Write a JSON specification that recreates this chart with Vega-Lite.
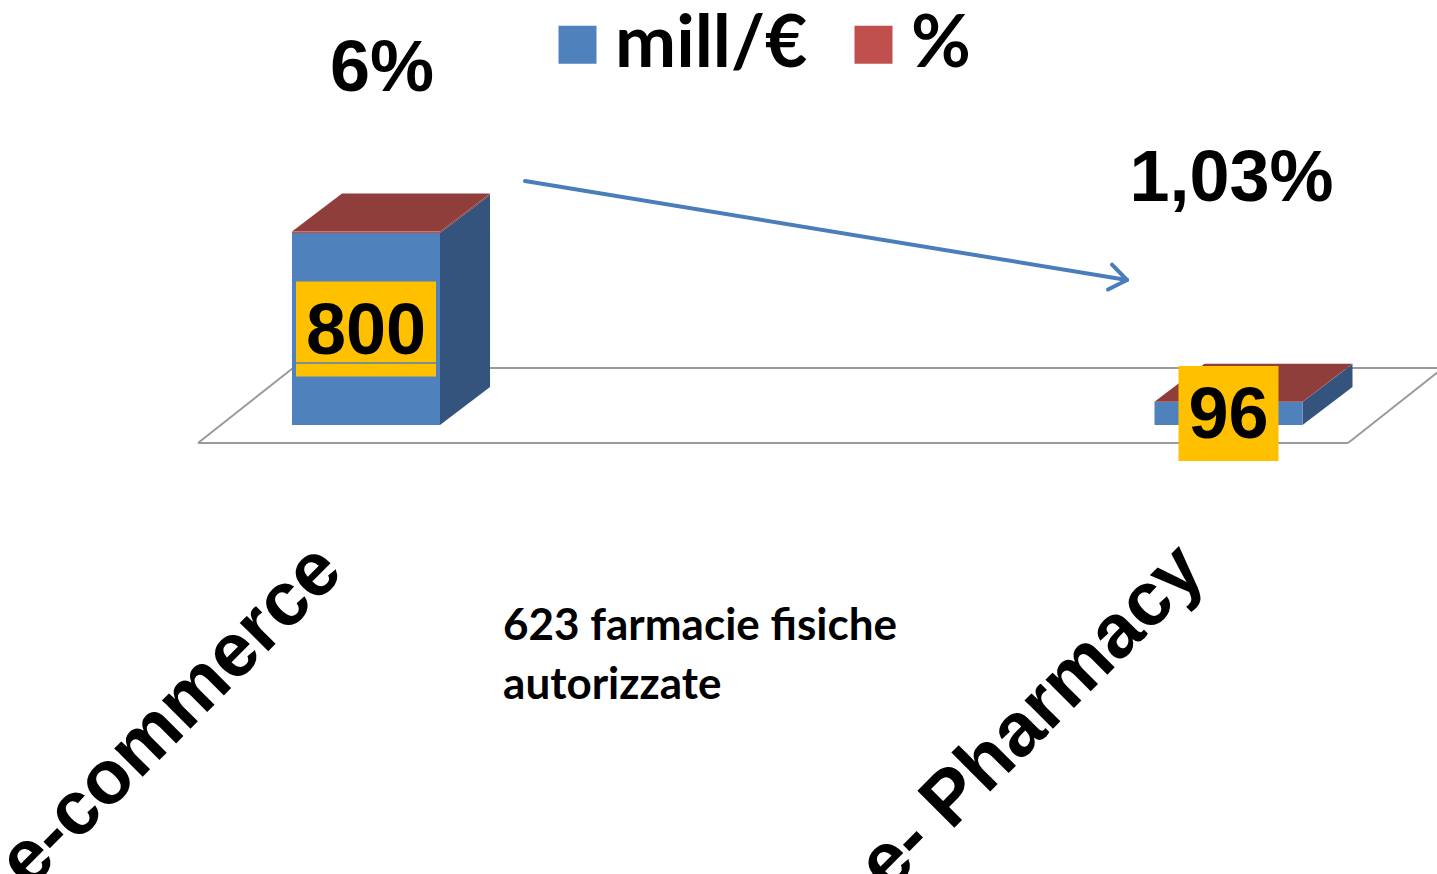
{
  "$schema": "https://vega.github.io/schema/vega-lite/v6.json",
  "width": 1437,
  "height": 874,
  "autosize": {"type": "none"},
  "padding": 0,
  "background": "white",
  "config": {"view": {"stroke": null}},
  "datasets": {
    "bars": [
      {"cat": "e-commerce", "mill": 800, "pct": 6},
      {"cat": "e- Pharmacy", "mill": 96, "pct": 1.03}
    ]
  },
  "layer": [
    {
      "data": {"values": [{}]},
      "mark": {"type": "rule", "color": "#9A9A9A", "strokeWidth": 2},
      "encoding": {
        "x": {"datum": -0.1948, "type": "quantitative", "scale": {"domain": [-0.424348, 1.241739], "nice": false, "zero": false}, "axis": null},
        "y": {"datum": -75, "type": "quantitative", "scale": {"domain": [-1870.83, 1770.83], "nice": false, "zero": false}, "axis": null},
        "x2": {"datum": 1.1386},
        "y2": {"datum": -75}
      }
    },
    {
      "data": {"values": [{}]},
      "mark": {"type": "rule", "color": "#9A9A9A", "strokeWidth": 2},
      "encoding": {
        "x": {"datum": 1.1386, "type": "quantitative", "scale": {"domain": [-0.424348, 1.241739], "nice": false, "zero": false}, "axis": null},
        "y": {"datum": -75, "type": "quantitative", "scale": {"domain": [-1870.83, 1770.83], "nice": false, "zero": false}, "axis": null},
        "x2": {"datum": 1.2487},
        "y2": {"datum": 237.5}
      }
    },
    {
      "data": {"values": [{}]},
      "mark": {"type": "rule", "color": "#9A9A9A", "strokeWidth": 2},
      "encoding": {
        "x": {"datum": 1.2487, "type": "quantitative", "scale": {"domain": [-0.424348, 1.241739], "nice": false, "zero": false}, "axis": null},
        "y": {"datum": 237.5, "type": "quantitative", "scale": {"domain": [-1870.83, 1770.83], "nice": false, "zero": false}, "axis": null},
        "x2": {"datum": -0.0846},
        "y2": {"datum": 237.5}
      }
    },
    {
      "data": {"values": [{}]},
      "mark": {"type": "rule", "color": "#9A9A9A", "strokeWidth": 2},
      "encoding": {
        "x": {"datum": -0.0846, "type": "quantitative", "scale": {"domain": [-0.424348, 1.241739], "nice": false, "zero": false}, "axis": null},
        "y": {"datum": 237.5, "type": "quantitative", "scale": {"domain": [-1870.83, 1770.83], "nice": false, "zero": false}, "axis": null},
        "x2": {"datum": -0.1948},
        "y2": {"datum": -75}
      }
    },
    {
      "data": {"name": "bars"},
      "transform": [
        {"window": [{"op": "row_number", "as": "rn"}]},
        {"calculate": "datum.rn - 1", "as": "i"},
        {"fold": ["mill", "pct"], "as": ["series", "value"]},
        {"calculate": "datum.series === 'mill' ? 0 : 1", "as": "ord"},
        {"stack": "value", "groupby": ["cat"], "sort": [{"field": "ord"}], "as": ["v0", "v1"]},
        {"calculate": "[0, 1]", "as": "c"},
        {"flatten": ["c"]},
        {"calculate": "datum.i + 0.0858 + datum.c * 0.058", "as": "sx"},
        {"calculate": "datum.v0 + datum.c * 158.3", "as": "sy0"},
        {"calculate": "datum.v1 + datum.c * 158.3", "as": "sy1"}
      ],
      "mark": {"type": "area", "orient": "vertical", "opacity": 1},
      "encoding": {
        "x": {"field": "sx", "type": "quantitative", "scale": {"domain": [-0.424348, 1.241739], "nice": false, "zero": false}, "axis": null},
        "y": {"field": "sy0", "type": "quantitative", "scale": {"domain": [-1870.83, 1770.83], "nice": false, "zero": false}, "axis": null},
        "y2": {"field": "sy1"},
        "color": {"condition": {"test": "datum.series === 'mill'", "value": "#34547E"}, "value": "#8F3E3B"},
        "detail": [{"field": "cat"}, {"field": "series"}]
      }
    },
    {
      "data": {"name": "bars"},
      "transform": [
        {"window": [{"op": "row_number", "as": "rn"}]},
        {"calculate": "datum.rn - 1", "as": "i"},
        {"calculate": "datum.mill + datum.pct", "as": "top"},
        {"calculate": "[0, 1]", "as": "c"},
        {"flatten": ["c"]},
        {"calculate": "datum.top + datum.c * 158.3", "as": "ty"},
        {"calculate": "datum.i - 0.0858 + datum.c * 0.058", "as": "tx0"},
        {"calculate": "datum.i + 0.0858 + datum.c * 0.058", "as": "tx1"}
      ],
      "mark": {"type": "area", "orient": "horizontal", "color": "#8F3E3B", "opacity": 1},
      "encoding": {
        "y": {"field": "ty", "type": "quantitative", "scale": {"domain": [-1870.83, 1770.83], "nice": false, "zero": false}, "axis": null},
        "x": {"field": "tx0", "type": "quantitative", "scale": {"domain": [-0.424348, 1.241739], "nice": false, "zero": false}, "axis": null},
        "x2": {"field": "tx1"},
        "detail": {"field": "cat"}
      }
    },
    {
      "data": {"name": "bars"},
      "transform": [
        {"window": [{"op": "row_number", "as": "rn"}]},
        {"calculate": "datum.rn - 1", "as": "i"},
        {"fold": ["mill", "pct"], "as": ["series", "value"]},
        {"calculate": "datum.series === 'mill' ? 0 : 1", "as": "ord"},
        {"stack": "value", "groupby": ["cat"], "sort": [{"field": "ord"}], "as": ["v0", "v1"]},
        {"calculate": "datum.i - 0.0858", "as": "fx0"},
        {"calculate": "datum.i + 0.0858", "as": "fx1"}
      ],
      "mark": {"type": "rect", "opacity": 1},
      "encoding": {
        "x": {"field": "fx0", "type": "quantitative", "scale": {"domain": [-0.424348, 1.241739], "nice": false, "zero": false}, "axis": null},
        "x2": {"field": "fx1"},
        "y": {"field": "v0", "type": "quantitative", "scale": {"domain": [-1870.83, 1770.83], "nice": false, "zero": false}, "axis": null},
        "y2": {"field": "v1"},
        "color": {
          "field": "series",
          "type": "nominal",
          "scale": {"domain": ["mill", "pct"], "range": ["#4F81BD", "#C0504D"]},
          "legend": {
            "orient": "none",
            "legendX": 541,
            "legendY": 8,
            "direction": "horizontal",
            "title": null,
            "symbolType": "square",
            "symbolSize": 1444,
            "symbolStrokeWidth": 0,
            "symbolOpacity": 1,
            "labelFontSize": 73,
            "labelFont": "Lato",
            "labelFontWeight": "bold",
            "labelColor": "#000000",
            "labelBaseline": "middle",
            "labelOffset": 1,
            "columnPadding": 29,
            "labelLimit": 500,
            "padding": 0,
            "labelExpr": "datum.label === 'mill' ? 'mill/€' : '%'"
          }
        }
      }
    },
    {
      "data": {"name": "bars"},
      "transform": [
        {"window": [{"op": "row_number", "as": "rn"}]},
        {"calculate": "datum.rn - 1", "as": "i"},
        {"calculate": "(length(toString(datum.mill)) * 40 + 20) / 1725", "as": "hw"},
        {"calculate": "datum.i - datum.hw", "as": "bx0"},
        {"calculate": "datum.i + datum.hw", "as": "bx1"},
        {"calculate": "datum.mill / 2 - 198", "as": "by0"},
        {"calculate": "datum.mill / 2 + 198", "as": "by1"}
      ],
      "mark": {"type": "rect", "color": "#FFC000", "opacity": 1},
      "encoding": {
        "x": {"field": "bx0", "type": "quantitative", "scale": {"domain": [-0.424348, 1.241739], "nice": false, "zero": false}, "axis": null},
        "x2": {"field": "bx1"},
        "y": {"field": "by0", "type": "quantitative", "scale": {"domain": [-1870.83, 1770.83], "nice": false, "zero": false}, "axis": null},
        "y2": {"field": "by1"}
      }
    },
    {
      "data": {"values": [{}]},
      "mark": {"type": "rule", "color": "#4F81BD", "strokeWidth": 1.5},
      "encoding": {
        "x": {"datum": -0.0812, "type": "quantitative", "scale": {"domain": [-0.424348, 1.241739], "nice": false, "zero": false}, "axis": null},
        "y": {"datum": 258.3, "type": "quantitative", "scale": {"domain": [-1870.83, 1770.83], "nice": false, "zero": false}, "axis": null},
        "x2": {"datum": 0.0823},
        "y2": {"datum": 258.3}
      }
    },
    {
      "data": {"name": "bars"},
      "transform": [
        {"window": [{"op": "row_number", "as": "rn"}]},
        {"calculate": "datum.rn - 1", "as": "i"},
        {"calculate": "datum.mill / 2", "as": "mid"}
      ],
      "mark": {"type": "text", "font": "Liberation Sans", "fontWeight": "bold", "fontSize": 72, "align": "center", "baseline": "alphabetic", "dy": 25, "color": "#000000"},
      "encoding": {
        "x": {"field": "i", "type": "quantitative", "scale": {"domain": [-0.424348, 1.241739], "nice": false, "zero": false}, "axis": null},
        "y": {"field": "mid", "type": "quantitative", "scale": {"domain": [-1870.83, 1770.83], "nice": false, "zero": false}, "axis": null},
        "text": {"field": "mill", "type": "quantitative", "format": "d"}
      }
    },
    {
      "data": {"name": "bars"},
      "transform": [
        {"filter": "datum.cat === 'e-commerce'"},
        {"calculate": "replace(format(datum.pct, '.3~g'), '.', ',') + '%'", "as": "pctLabel"}
      ],
      "mark": {"type": "text", "font": "Liberation Sans", "fontWeight": "bold", "fontSize": 72, "align": "center", "baseline": "alphabetic", "color": "#000000"},
      "encoding": {
        "x": {"datum": 0.01855, "type": "quantitative", "scale": {"domain": [-0.424348, 1.241739], "nice": false, "zero": false}, "axis": null},
        "y": {"datum": 1391.67, "type": "quantitative", "scale": {"domain": [-1870.83, 1770.83], "nice": false, "zero": false}, "axis": null},
        "text": {"field": "pctLabel", "type": "nominal"}
      }
    },
    {
      "data": {"name": "bars"},
      "transform": [
        {"filter": "datum.cat === 'e- Pharmacy'"},
        {"calculate": "replace(format(datum.pct, '.3~g'), '.', ',') + '%'", "as": "pctLabel"}
      ],
      "mark": {"type": "text", "font": "Liberation Sans", "fontWeight": "bold", "fontSize": 72, "align": "center", "baseline": "alphabetic", "color": "#000000"},
      "encoding": {
        "x": {"datum": 1.0035, "type": "quantitative", "scale": {"domain": [-0.424348, 1.241739], "nice": false, "zero": false}, "axis": null},
        "y": {"datum": 933.33, "type": "quantitative", "scale": {"domain": [-1870.83, 1770.83], "nice": false, "zero": false}, "axis": null},
        "text": {"field": "pctLabel", "type": "nominal"}
      }
    },
    {
      "data": {"values": [{}]},
      "mark": {"type": "rule", "color": "#4A7EBB", "strokeWidth": 4, "strokeCap": "round"},
      "encoding": {
        "x": {"datum": 0.18435, "type": "quantitative", "scale": {"domain": [-0.424348, 1.241739], "nice": false, "zero": false}, "axis": null},
        "y": {"datum": 1016.67, "type": "quantitative", "scale": {"domain": [-1870.83, 1770.83], "nice": false, "zero": false}, "axis": null},
        "x2": {"datum": 0.88232},
        "y2": {"datum": 604.17}
      }
    },
    {
      "data": {"values": [{}]},
      "mark": {"type": "rule", "color": "#4A7EBB", "strokeWidth": 4, "strokeCap": "round"},
      "encoding": {
        "x": {"datum": 0.86029, "type": "quantitative", "scale": {"domain": [-0.424348, 1.241739], "nice": false, "zero": false}, "axis": null},
        "y": {"datum": 564.58, "type": "quantitative", "scale": {"domain": [-1870.83, 1770.83], "nice": false, "zero": false}, "axis": null},
        "x2": {"datum": 0.88232},
        "y2": {"datum": 604.17}
      }
    },
    {
      "data": {"values": [{}]},
      "mark": {"type": "rule", "color": "#4A7EBB", "strokeWidth": 4, "strokeCap": "round"},
      "encoding": {
        "x": {"datum": 0.86493, "type": "quantitative", "scale": {"domain": [-0.424348, 1.241739], "nice": false, "zero": false}, "axis": null},
        "y": {"datum": 668.33, "type": "quantitative", "scale": {"domain": [-1870.83, 1770.83], "nice": false, "zero": false}, "axis": null},
        "x2": {"datum": 0.88232},
        "y2": {"datum": 604.17}
      }
    },
    {
      "data": {"values": [{}]},
      "mark": {"type": "text", "text": ["623 farmacie fisiche", "autorizzate"], "font": "Lato", "fontWeight": "bold", "fontSize": 44, "lineHeight": 59, "align": "left", "baseline": "alphabetic", "color": "#000000"},
      "encoding": {
        "x": {"datum": 0.1589, "type": "quantitative", "scale": {"domain": [-0.424348, 1.241739], "nice": false, "zero": false}, "axis": null},
        "y": {"datum": -895.83, "type": "quantitative", "scale": {"domain": [-1870.83, 1770.83], "nice": false, "zero": false}, "axis": null}
      }
    },
    {
      "data": {"name": "bars"},
      "transform": [
        {"window": [{"op": "row_number", "as": "rn"}]},
        {"calculate": "datum.rn - 1 - 0.043", "as": "lx"}
      ],
      "mark": {"type": "text", "font": "Liberation Sans", "fontWeight": "bold", "fontSize": 76, "angle": 315, "align": "right", "baseline": "middle", "color": "#000000"},
      "encoding": {
        "x": {"field": "lx", "type": "quantitative", "scale": {"domain": [-0.424348, 1.241739], "nice": false, "zero": false}, "axis": null},
        "y": {"datum": -554, "type": "quantitative", "scale": {"domain": [-1870.83, 1770.83], "nice": false, "zero": false}, "axis": null},
        "text": {"field": "cat", "type": "nominal"}
      }
    }
  ]
}
